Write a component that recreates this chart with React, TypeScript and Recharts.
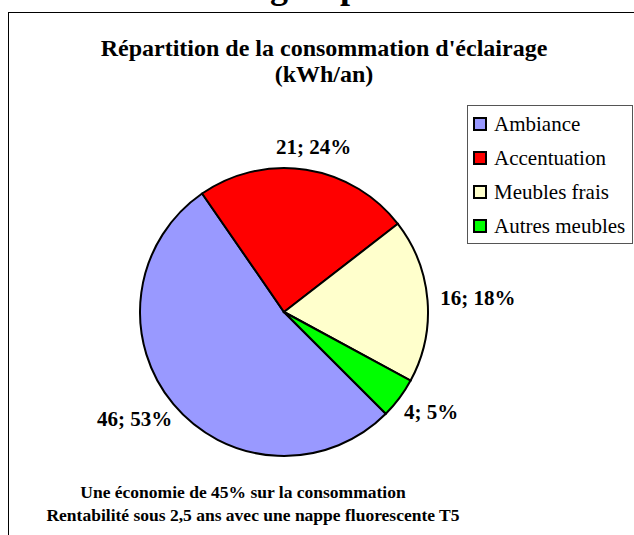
import React from "react";
import { PieChart, Pie, Cell, Legend } from "recharts";

const categories = ["Ambiance", "Accentuation", "Meubles frais", "Autres meubles"];
const consumption = [46, 21, 16, 4];
const colors = ["#9999FF", "#FF0000", "#FFFFCC", "#00FF00"];

const headerText = "Éclairage – pistes";
const titleLines = ["Répartition de la consommation d'éclairage", "(kWh/an)"];
const noteLines = [
  "Une économie de 45% sur la consommation",
  "Rentabilité sous 2,5 ans avec une nappe fluorescente T5",
];

const data = categories.map((name, i) => ({ name, value: consumption[i] }));

const FONT = "'Liberation Serif', 'Times New Roman', serif";
const RADIAN = Math.PI / 180;

const renderLabel = (props: any) => {
  const { cx, cy, midAngle, outerRadius, value, percent } = props;
  const text = `${value}; ${Math.round(percent * 100)}%`;
  const cos = Math.cos(-midAngle * RADIAN);
  const sin = Math.sin(-midAngle * RADIAN);
  const r = outerRadius + 12;
  const w = text.length * 11;
  const x = cx + r * cos + (cos * w) / 2;
  const y = cy + r * sin + (sin * 21) / 2;
  return (
    <text
      x={x}
      y={y}
      textAnchor="middle"
      dominantBaseline="central"
      fontFamily={FONT}
      fontWeight="bold"
      fontSize={21}
      fill="#000"
    >
      {text}
    </text>
  );
};

const renderLegend = (props: any) => {
  const payload = [...(props.payload || [])].sort(
    (a: any, b: any) => categories.indexOf(a.value) - categories.indexOf(b.value)
  );
  return (
    <div
      style={{
        border: "1px solid #555",
        background: "#fff",
        padding: "1px 0 0 5px",
        fontFamily: FONT,
        fontSize: 21,
        color: "#000",
      }}
    >
      {payload.map((entry: any) => (
        <div
          key={entry.value}
          style={{ display: "flex", alignItems: "center", height: 34, whiteSpace: "nowrap" }}
        >
          <span
            style={{
              display: "inline-block",
              width: 10,
              height: 10,
              border: "2px solid #000",
              background: entry.color,
              marginRight: 7,
              flexShrink: 0,
            }}
          />
          {entry.value}
        </div>
      ))}
    </div>
  );
};

export default function App() {
  return (
    <div
      style={{
        position: "absolute",
        left: 0,
        top: 0,
        width: 634,
        height: 535,
        overflow: "hidden",
        background: "#fff",
      }}
    >
      <div
        style={{
          position: "absolute",
          left: 8,
          top: 12,
          width: 700,
          height: 600,
          border: "1.5px solid #000",
        }}
      />
      <svg
        width={634}
        height={535}
        style={{ position: "absolute", left: 0, top: 0 }}
        fontFamily={FONT}
        fontWeight="bold"
      >
        <text x={158} y={-2} fontSize={36}>
          {headerText}
        </text>
        <text x={324} y={56} fontSize={24} textAnchor="middle">
          {titleLines[0]}
        </text>
        <text x={324} y={82} fontSize={24} textAnchor="middle">
          {titleLines[1]}
        </text>
        <text x={243} y={498} fontSize={17.5} textAnchor="middle">
          {noteLines[0]}
        </text>
        <text x={253} y={521} fontSize={17.5} textAnchor="middle">
          {noteLines[1]}
        </text>
      </svg>
      <div style={{ position: "absolute", left: 0, top: 0 }}>
        <PieChart
          width={634}
          height={535}
          margin={{ top: 0, right: 0, bottom: 0, left: 0 }}
        >
          <Pie
            data={data}
            dataKey="value"
            nameKey="name"
            cx={284}
            cy={312}
            outerRadius={144}
            startAngle={315}
            endAngle={-45}
            stroke="#000"
            strokeWidth={2}
            label={renderLabel}
            labelLine={false}
            isAnimationActive={false}
          >
            {data.map((d, i) => (
              <Cell key={d.name} fill={colors[i]} />
            ))}
          </Pie>
          <Legend
            layout="vertical"
            align="right"
            verticalAlign="top"
            content={renderLegend}
            wrapperStyle={{ position: "absolute", left: 467, top: 105, width: 166 }}
          />
        </PieChart>
      </div>
    </div>
  );
}
